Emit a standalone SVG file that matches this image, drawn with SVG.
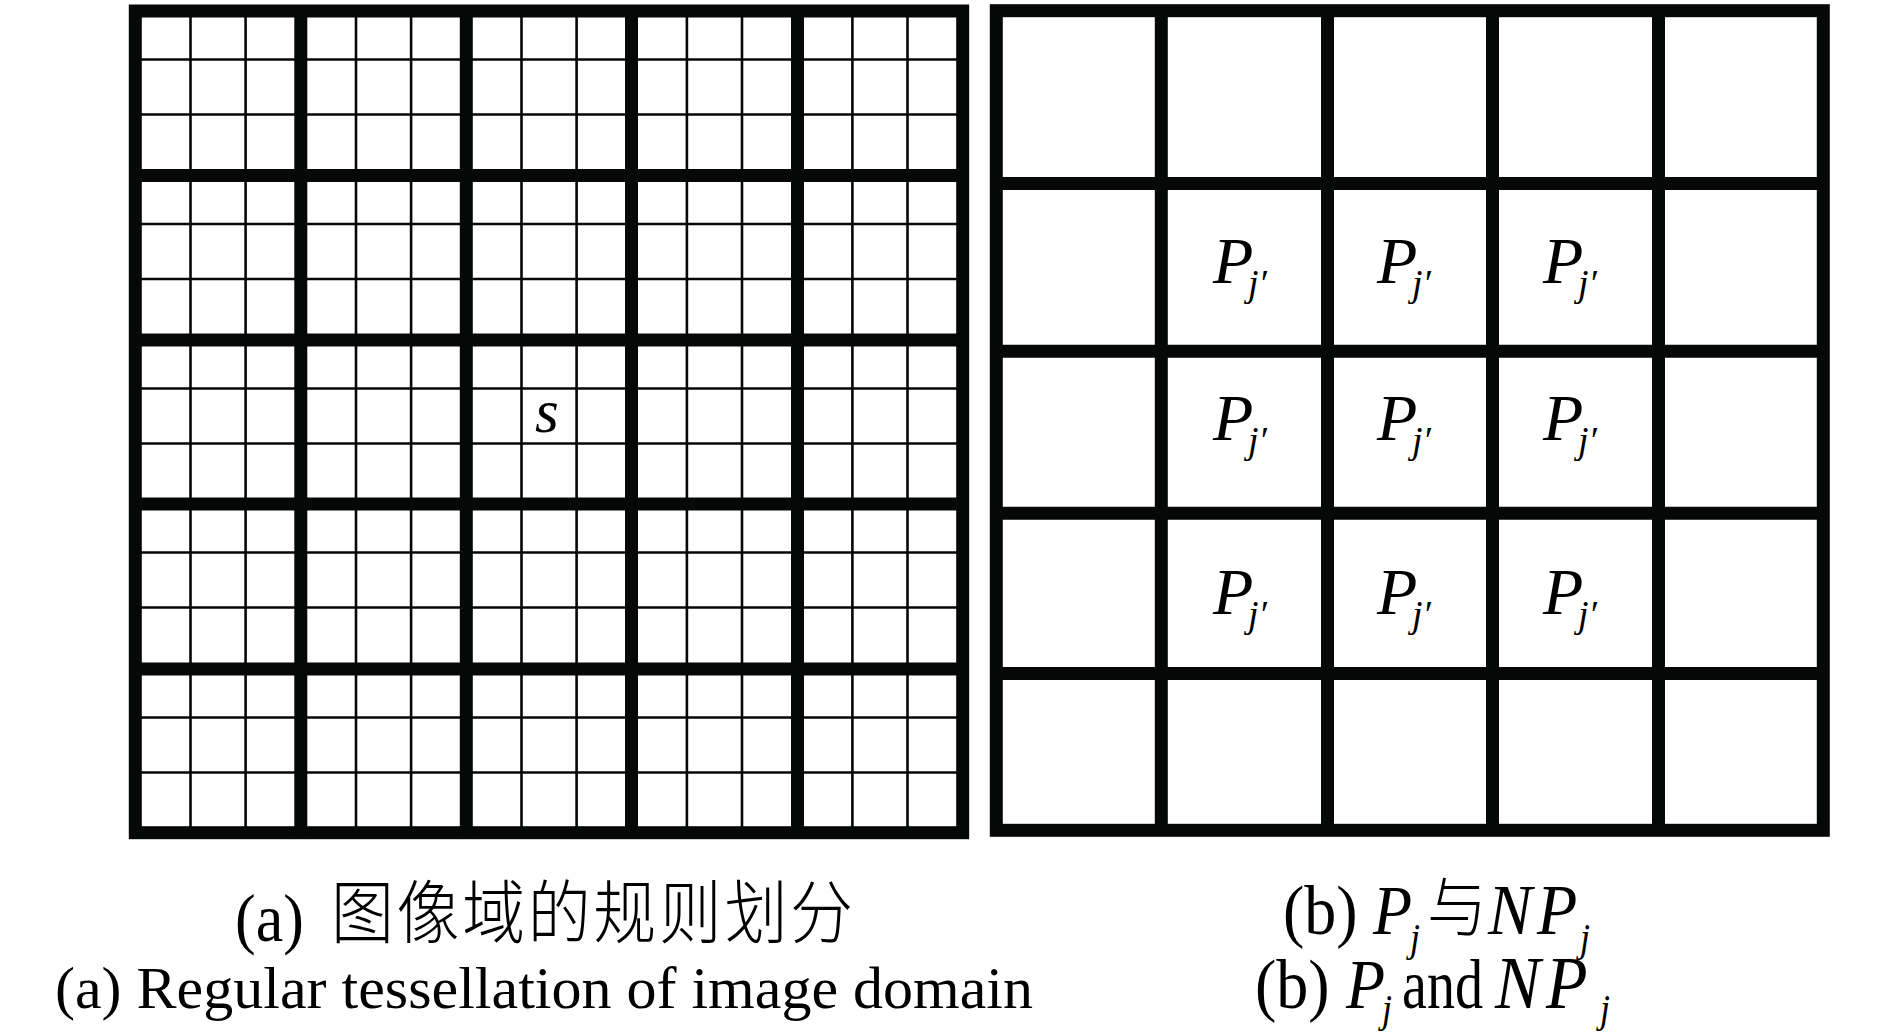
<svg xmlns="http://www.w3.org/2000/svg" width="1890" height="1036" viewBox="0 0 1890 1036">
<style>
.thick{stroke:#060808;stroke-width:13;fill:none}
.thin{stroke:#060808;stroke-width:2.6;fill:none}
.serif{font-family:"Liberation Serif","Times New Roman",serif;fill:#000}
.it{font-style:italic}
.cjk{font-family:"Noto Sans CJK SC","Noto Sans CJK JP",sans-serif;font-weight:300;fill:#000}
</style>
<rect width="1890" height="1036" fill="#fff"/>
<g id="grid-a">
  <g id="grid-a-thin" class="thin">
    <path d="M135 59.5H963M135 114.5H963M135 224H963M135 279H963M135 388.5H963M135 443.5H963M135 552.5H963M135 607.5H963M135 717.5H963M135 772.5H963"/>
    <path d="M190.5 11V833M245.6 11V833M356 11V833M411.1 11V833M521.5 11V833M576.6 11V833M686.9 11V833M742 11V833M852.4 11V833M907.5 11V833"/>
  </g>
  <g id="grid-a-thick" class="thick">
    <rect x="135.3" y="11" width="827.4" height="821.7"/>
    <path d="M300.8 11V832.7M466.3 11V832.7M631.5 11V832.7M797.5 11V832.7"/>
    <path d="M135.3 175.5H962.7M135.3 340H962.7M135.3 504H962.7M135.3 669H962.7"/>
  </g>
  <text id="label-s" class="serif it" x="535" y="431.5" font-size="61">s</text>
</g>
<g id="grid-b">
  <g id="grid-b-thick" class="thick">
    <rect x="996.3" y="10.7" width="827" height="819.6"/>
    <path d="M1161.3 10.7V830.3M1327.5 10.7V830.3M1492.5 10.7V830.3M1658.5 10.7V830.3"/>
    <path d="M996.3 183.5H1823.3M996.3 351.3H1823.3M996.3 513.3H1823.3M996.3 673.5H1823.3"/>
  </g>
  <g id="labels-b" class="serif it" font-size="66">
    <text x="1213" y="282.7">P<tspan x="1248" y="296" font-size="38">j′</tspan></text>
    <text x="1377" y="282.7">P<tspan x="1412" y="296" font-size="38">j′</tspan></text>
    <text x="1543" y="282.7">P<tspan x="1578" y="296" font-size="38">j′</tspan></text>
    <text x="1213" y="440">P<tspan x="1248" y="453" font-size="38">j′</tspan></text>
    <text x="1377" y="440">P<tspan x="1412" y="453" font-size="38">j′</tspan></text>
    <text x="1543" y="440">P<tspan x="1578" y="453" font-size="38">j′</tspan></text>
    <text x="1213" y="614">P<tspan x="1248" y="627" font-size="38">j′</tspan></text>
    <text x="1377" y="614">P<tspan x="1412" y="627" font-size="38">j′</tspan></text>
    <text x="1543" y="614">P<tspan x="1578" y="627" font-size="38">j′</tspan></text>
  </g>
</g>
<g id="caption-a">
  <g transform="translate(0,941) scale(1,1.1)">
    <text class="serif" x="235" y="0" font-size="62">(a)</text>
    <text class="cjk" x="331" y="-3" font-size="63" textLength="522" lengthAdjust="spacing">图像域的规则划分</text>
  </g>
  <text class="serif" x="55" y="1008" font-size="60" textLength="978" lengthAdjust="spacing">(a) Regular tessellation of image domain</text>
</g>
<g id="caption-b">
  <g transform="translate(0,934) scale(1,1.1)">
    <text class="serif" x="1283" y="0" font-size="64">(b)</text>
    <text class="serif it" x="1373" y="0" font-size="64">P</text>
    <text class="serif it" x="1410" y="15" font-size="36">j</text>
    <text class="cjk" x="1427" y="-3" font-size="60">与</text>
    <text class="serif it" x="1488" y="0" font-size="66">N</text>
    <text class="serif it" x="1537" y="0" font-size="66">P</text>
    <text class="serif it" x="1580" y="15" font-size="36">j</text>
  </g>
  <g transform="translate(0,1008) scale(1,1.1)">
    <text class="serif" x="1255" y="0" font-size="64">(b)</text>
    <text class="serif it" x="1346" y="0" font-size="64">P</text>
    <text class="serif it" x="1382" y="13" font-size="36">j</text>
    <text class="serif" x="1402" y="0" font-size="64" textLength="81" lengthAdjust="spacingAndGlyphs">and</text>
    <text class="serif it" x="1495" y="0" font-size="68">N</text>
    <text class="serif it" x="1546" y="0" font-size="68">P</text>
    <text class="serif it" x="1600" y="13" font-size="36">j</text>
  </g>
</g>
</svg>
